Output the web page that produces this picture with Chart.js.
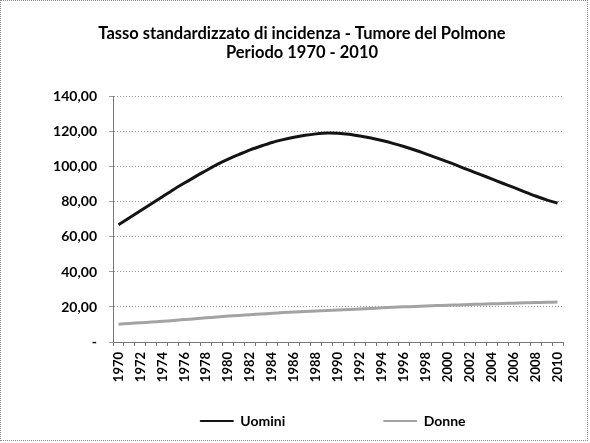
<!DOCTYPE html>
<html>
<head>
<meta charset="utf-8">
<script src="https://cdn.jsdelivr.net/npm/chart.js@4.4.1/dist/chart.umd.min.js"></script>
<style>
  html, body { margin: 0; padding: 0; background: #fff; }
  #wrap { position: absolute; left: 0; top: 0; width: 586px; height: 439px; border: 1px dotted #888; }
  canvas { display: block; }
</style>
</head>
<body>
<div id="wrap"><canvas id="chart" width="586" height="439"></canvas></div>
<script>
// Anni e valori
const years = [];
for (let y = 1970; y <= 2010; y++) years.push(String(y));

const uomini = [67.0, 71.0, 75.0, 79.0, 83.0, 87.0, 90.8, 94.5, 98.0, 101.5,
  104.5, 107.2, 109.8, 112.0, 114.0, 115.6, 117.0, 118.1, 118.9, 119.4,
  119.3, 118.7, 117.7, 116.5, 115.1, 113.5, 111.7, 109.7, 107.5, 105.2,
  102.9, 100.5, 98.0, 95.6, 93.2, 90.7, 88.3, 85.8, 83.4, 81.2, 79.3];

const donne = [10.2, 10.6, 11.0, 11.4, 11.8, 12.3, 12.8, 13.3, 13.8, 14.3,
  14.8, 15.2, 15.6, 16.0, 16.4, 16.8, 17.1, 17.4, 17.7, 18.0,
  18.3, 18.6, 18.9, 19.2, 19.5, 19.8, 20.1, 20.3, 20.5, 20.8,
  21.0, 21.2, 21.4, 21.6, 21.8, 22.0, 22.2, 22.4, 22.5, 22.7, 22.8];

const titleLines = ['Tasso standardizzato di incidenza - Tumore del Polmone', 'Periodo 1970 - 2010'];

const FONT = 'Lato, "Open Sans", sans-serif';

const ctx = document.getElementById('chart').getContext('2d');
new Chart(ctx, {
  type: 'line',
  data: {
    labels: years,
    datasets: [
      {
        label: 'Uomini',
        data: uomini,
        borderColor: '#141414',
        backgroundColor: '#141414',
        borderWidth: 3,
        pointRadius: 0,
        tension: 0.3
      },
      {
        label: 'Donne',
        data: donne,
        borderColor: '#a3a3a3',
        backgroundColor: '#a3a3a3',
        borderWidth: 3,
        pointRadius: 0,
        tension: 0.3
      }
    ]
  },
  options: {
    responsive: false,
    animation: false,
    layout: { padding: { left: 40, right: 24, top: 6, bottom: 2 } },
    plugins: {
      title: {
        display: true,
        text: titleLines,
        color: '#000',
        font: { family: FONT, size: 16.5, weight: 'bold', lineHeight: 1.15 },
        padding: { top: 17, bottom: 35 }
      },
      legend: {
        position: 'bottom',
        fullSize: false,
        labels: {
          color: '#000',
          font: { family: FONT, size: 14, weight: 'bold' },
          boxWidth: 33,
          boxHeight: 1,
          padding: 10,
          generateLabels(chart) {
            const items = Chart.defaults.plugins.legend.labels.generateLabels(chart);
            // spazio tra le due voci della legenda
            chart.ctx.save();
            chart.ctx.font = 'bold 14px ' + FONT;
            const sp = chart.ctx.measureText(' ').width;
            chart.ctx.restore();
            items.forEach((it, i) => {
              it.lineWidth = 1;
              if (i === 0) it.text = it.text + ' '.repeat(Math.round(90 / sp));
              if (i === 1) it.text = it.text + ' '.repeat(Math.round(10 / sp));
            });
            return items;
          }
        }
      },
      tooltip: { enabled: false }
    },
    scales: {
      x: {
        offset: true,
        afterFit: (s) => { s.height = 62; },
        grid: {
          display: true,
          drawOnChartArea: false,
          drawTicks: true,
          tickLength: 4,
          color: '#777',
          offset: true
        },
        border: { color: '#777', dash: [1, 2] },
        ticks: {
          autoSkip: false,
          maxRotation: 90,
          minRotation: 90,
          color: '#000',
          padding: 6,
          font: { family: FONT, size: 13, weight: 'bold' },
          callback: (v, i) => i % 2 === 0 ? years[i] : ''
        }
      },
      y: {
        min: 0,
        max: 140,
        afterFit: (s) => { s.width = 72; },
        grid: { color: '#999', tickLength: 4 },
        border: { color: '#777', dash: [1, 2] },
        ticks: {
          stepSize: 20,
          color: '#000',
          padding: 12,
          font: { family: FONT, size: 14, weight: 'bold' },
          callback: (v) => v === 0 ? '-' : v.toFixed(2).replace('.', ',')
        }
      }
    }
  }
});
</script>
</body>
</html>
